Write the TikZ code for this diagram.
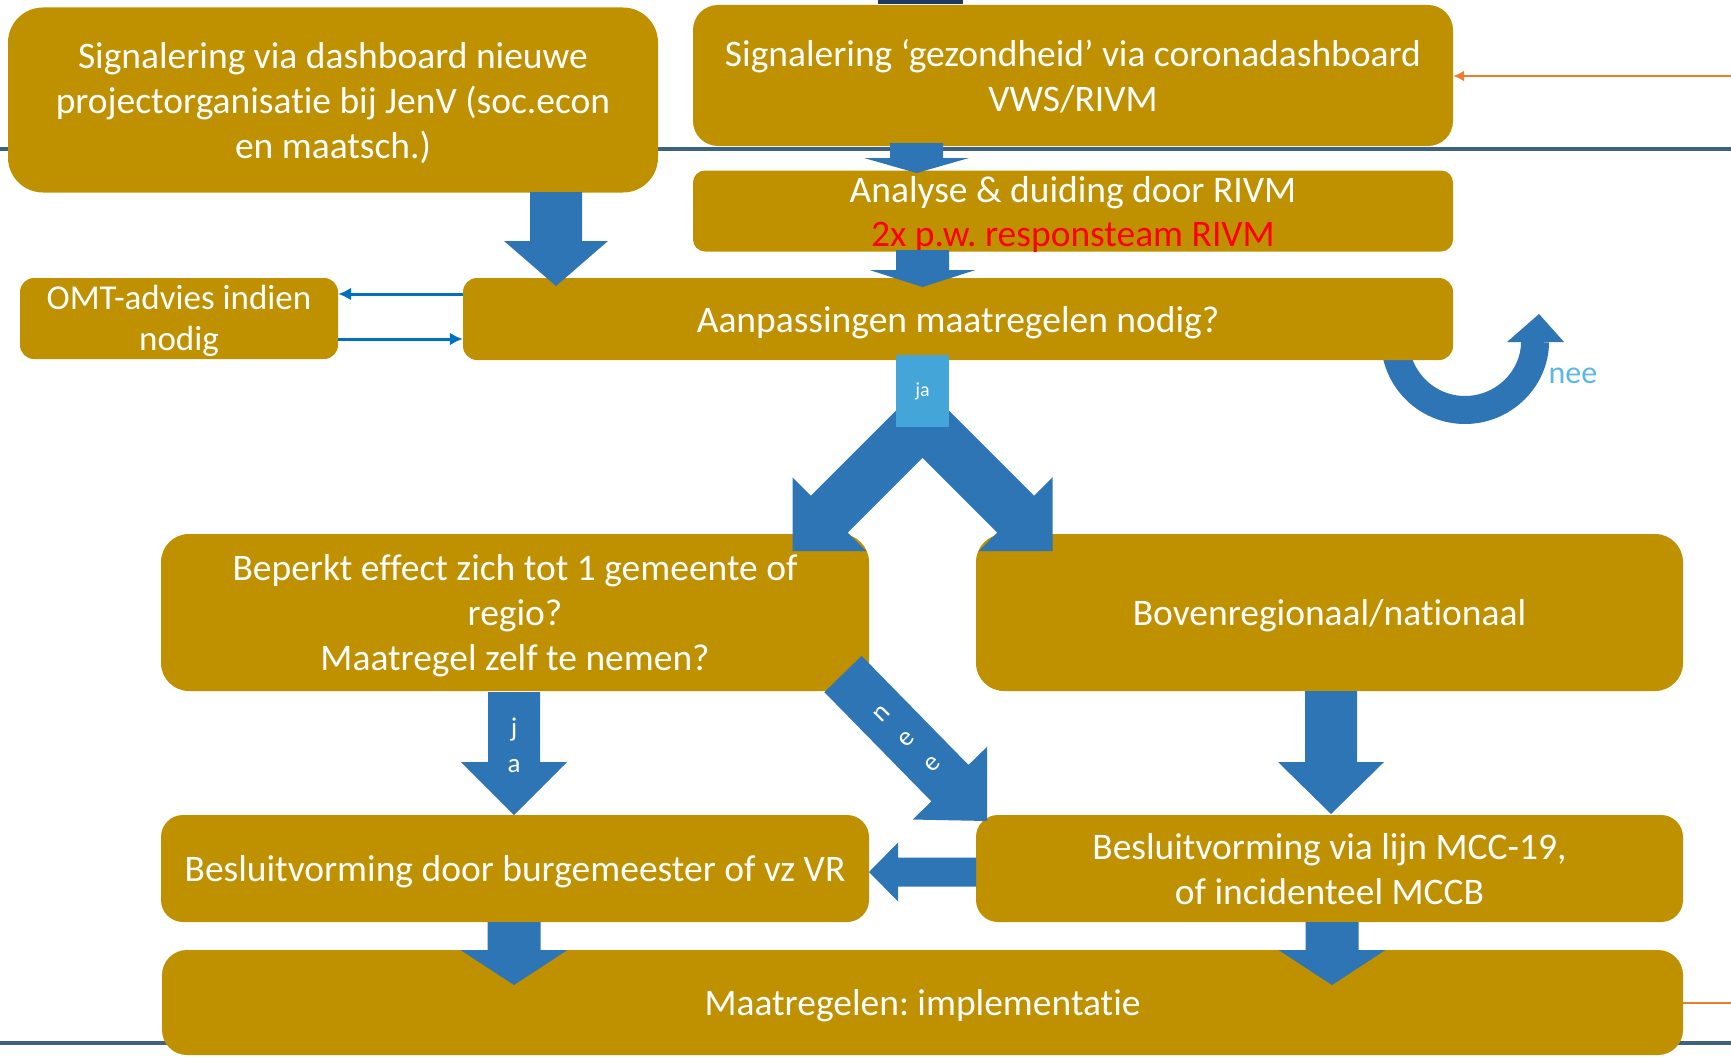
\documentclass[tikz,border=0pt]{standalone}
\usepackage{fontspec}
\setmainfont[Ligatures={NoCommon}]{Carlito}
\usetikzlibrary{calc,arrows.meta}
\pgfdeclarelayer{bg}
\pgfsetlayers{bg,main}
\frenchspacing
\definecolor{gold}{RGB}{191,144,0}
\definecolor{barrow}{RGB}{46,117,182}
\definecolor{lblue}{RGB}{68,166,216}
\definecolor{tblue}{RGB}{0,112,192}
\definecolor{rulec}{RGB}{62,98,125}
\definecolor{orng}{RGB}{237,125,49}
\definecolor{navyc}{RGB}{31,56,100}
\definecolor{neeblue}{RGB}{91,182,230}
\newcommand\tstr{\rule{0pt}{36pt}}
\newcommand\bstr{\rule[-10pt]{0pt}{0pt}}
\newcommand\tstro{\rule{0pt}{31pt}}
\newcommand\bstro{\rule[-9pt]{0pt}{0pt}}
% block arrow: #1 start, #2 tip, #3 half shaft, #4 half head, #5 head length
\newcommand\barrow[5]{%
  \path ($(#2)!#5!(#1)$) coordinate (hb);
  \fill[blk] ($(#1)!#3!90:(#2)$) -- ($(hb)!#3!90:(#2)$) -- ($(hb)!#4!90:(#2)$) -- (#2)
    -- ($(hb)!#4!-90:(#2)$) -- ($(hb)!#3!-90:(#2)$) -- ($(#1)!#3!-90:(#2)$) -- cycle;}
\begin{document}
\begin{tikzpicture}[x=1pt,y=-1pt,
  box/.style={fill=gold, text=white, align=center, inner sep=0pt, font=\fontsize{37.5}{45}\selectfont},
  omtbox/.style={box, font=\fontsize{35}{41}\selectfont},
  blk/.style={fill=barrow},
  thinarrow/.style={draw=tblue, line width=3pt, -{Latex[length=13pt,width=13pt]}},
  lbl/.style={text=white, align=center, inner sep=0pt, font=\fontsize{27}{36}\selectfont}]
\useasboundingbox (0,0) rectangle (1731,1057);
% boxes
\node[box, minimum width=650pt, minimum height=185pt, rounded corners=35pt] (A) at (333,100)
  {\tstr Signalering via dashboard nieuwe\\projectorganisatie bij JenV (soc.econ\\en maatsch.)\bstr};
\node[box, minimum width=760pt, minimum height=141pt, rounded corners=25pt] (B) at (1073,75.5)
  {\tstr Signalering ‘gezondheid’ via coronadashboard\\VWS/RIVM\bstr};
\node[box, minimum width=760pt, minimum height=81pt, rounded corners=12pt, font=\fontsize{37.5}{44}\selectfont] (C) at (1073,211)
  {\rule{0pt}{31pt}\smash{Analyse \& duiding door RIVM}\\\smash{\textcolor{red}{2x p.w. responsteam RIVM}}\rule[-5pt]{0pt}{0pt}};
\node[box, minimum width=990pt, minimum height=82pt, rounded corners=14pt] (D) at (958,319)
  {\tstr Aanpassingen maatregelen nodig?\bstr};
\node[omtbox, minimum width=318pt, minimum height=81pt, rounded corners=14pt] (OMT) at (179,318.5)
  {\tstro OMT-advies indien\\nodig\bstro};
\node[box, minimum width=708pt, minimum height=157pt, rounded corners=28pt] (E) at (515,612.5)
  {\tstr Beperkt effect zich tot 1 gemeente of\\regio?\\Maatregel zelf te nemen?\bstr};
\node[box, minimum width=707pt, minimum height=157pt, rounded corners=28pt] (F) at (1329.5,612.5)
  {\tstr Bovenregionaal/nationaal\bstr};
\node[box, minimum width=708pt, minimum height=107pt, rounded corners=22pt] (G) at (515,868.5)
  {\tstr Besluitvorming door burgemeester of vz VR\bstr};
\node[box, minimum width=707pt, minimum height=107pt, rounded corners=22pt] (H) at (1329.5,868.5)
  {\tstr Besluitvorming via lijn MCC-19,\\of incidenteel MCCB\bstr};
\node[box, minimum width=1521pt, minimum height=105pt, rounded corners=25pt] (I) at (922.5,1002.5)
  {\tstr Maatregelen: implementatie\bstr};
% background lines and loop
\begin{pgfonlayer}{bg}
  \draw[rulec, line width=4pt] (0,149) -- (1731,149);
  \draw[rulec, line width=4pt] (0,1043) -- (1731,1043);
  \draw[orng, line width=2pt] (1683,1003) -- (1731,1003);
  \fill[navyc] (878,0) rectangle (963,4);
  \coordinate (loopS) at (1395,330);
  \coordinate (loopE) at (1535,342);
  \draw[barrow, line width=28pt] (loopS) -- (1395,340) .. controls (1395,378.6) and (1426.4,410) .. (1465,410)
     .. controls (1503.6,410) and (1535,378.6) .. (loopE);
  \fill[barrow] (1507,342) -- (1564,342) -- (1539,314) -- cycle;
\end{pgfonlayer}
\node[text=neeblue, inner sep=0pt, font=\fontsize{32}{36}\selectfont] (loopnee) at (1573,376) {nee};
% orange arrow into B
\coordinate (oR) at (1731,76);
\draw[orng, line width=2pt, -{Latex[length=11pt,width=11pt]}] (oR) -- (oR -| B.east);
% thin arrows OMT <-> D
\coordinate (t1) at (0,294);
\coordinate (t2) at (0,339);
\draw[thinarrow] (t1 -| D.west) -- (t1 -| OMT.east);
\draw[thinarrow] (t2 -| OMT.east) -- (t2 -| D.west);
% block arrows
\coordinate (ad1) at (556,192); \coordinate (ad2) at (556,286);
\barrow{ad1}{ad2}{26pt}{52pt}{45pt}
\coordinate (bc1) at (916.5,143); \coordinate (bc2) at (916.5,173);
\barrow{bc1}{bc2}{26.5pt}{52.5pt}{15pt}
\coordinate (cd1) at (922.5,250); \coordinate (cd2) at (922.5,287);
\barrow{cd1}{cd2}{26.5pt}{53pt}{17pt}
\coordinate (sp0) at (922.5,421); \coordinate (spL) at (792.5,551); \coordinate (spR) at (1052.5,551);
\barrow{sp0}{spL}{26pt}{52pt}{52pt}
\barrow{sp0}{spR}{26pt}{52pt}{52pt}
\coordinate (eg1) at (514,692); \coordinate (eg2) at (514,815);
\barrow{eg1}{eg2}{26pt}{53pt}{53pt}
\coordinate (nh1) at (843,674); \coordinate (nh2) at (987,821);
\barrow{nh1}{nh2}{26pt}{52pt}{53pt}
\coordinate (fh1) at (1331,691); \coordinate (fh2) at (1331,814);
\barrow{fh1}{fh2}{26pt}{53pt}{52pt}
\coordinate (hg1) at (976,872); \coordinate (hg2) at (869,872);
\barrow{hg1}{hg2}{14.5pt}{29.5pt}{29pt}
\coordinate (gi1) at (514,922); \coordinate (gi2) at (514,985);
\barrow{gi1}{gi2}{26.5pt}{53.5pt}{35pt}
\coordinate (hi1) at (1332,922); \coordinate (hi2) at (1332,985);
\barrow{hi1}{hi2}{26.5pt}{53.5pt}{35pt}
% ja box and labels
\node[fill=lblue, minimum width=53pt, minimum height=72pt, inner sep=0pt, text=white, font=\fontsize{20}{24}\selectfont] (ja) at (922.5,391) {ja};
\node[lbl] (lja) at (514,745) {j\\a};
\node[lbl, rotate=45] (lnee) at (907,739) {n\\e\\e};
\end{tikzpicture}
\end{document}
